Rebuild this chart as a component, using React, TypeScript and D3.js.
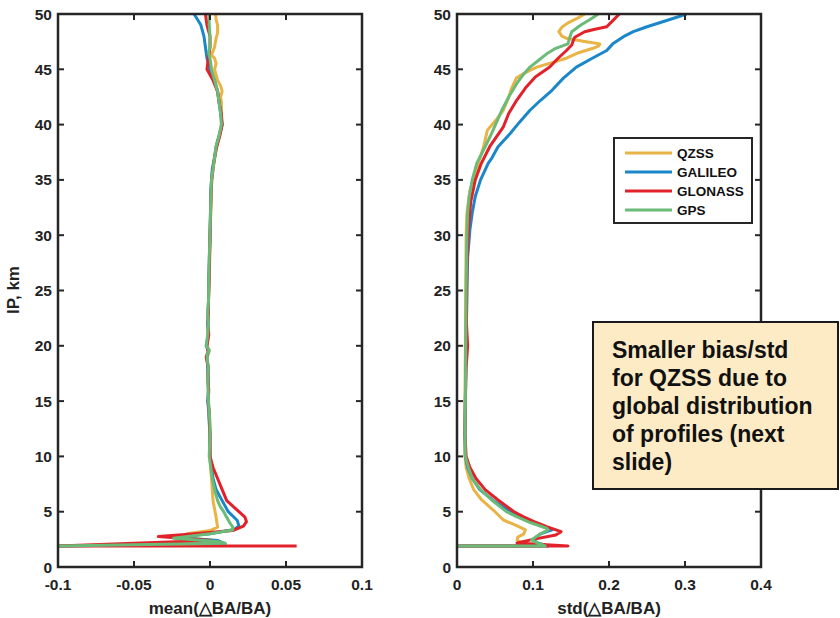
import React from "react";
import * as d3 from "d3";

const seriesNames = ["QZSS", "GALILEO", "GLONASS", "GPS"];
const seriesColors = ["#E9B445", "#1B87C9", "#E2222A", "#6BBB78"];

const heightTicks = [0, 5, 10, 15, 20, 25, 30, 35, 40, 45, 50];
const meanTicks = [-0.1, -0.05, 0, 0.05, 0.1];
const stdTicks = [0, 0.1, 0.2, 0.3, 0.4];

// [height km, mean(dBA/BA)]
const meanQZSS: [number, number][] = [
  [50, 0.0037], [49.5, 0.004], [49, 0.005], [48.3, 0.005], [47.8, 0.004], [47, 0.003], [46.3, 0.001],
  [46, 0.003], [45.5, 0.004], [45, 0.003], [44, 0.005], [43.5, 0.007], [43, 0.008], [42.5, 0.007],
  [42, 0.0075], [41, 0.0075], [40, 0.0075], [39, 0.006], [38, 0.004], [37, 0.003], [36, 0.0018],
  [35, 0.001], [33, 0.0006], [30, 0.0002], [27, -0.0003], [24, -0.001], [22, -0.0012], [20, -0.002],
  [19.5, -0.0005], [19, -0.0018], [17, -0.001], [15, -0.0012], [13, -0.0003], [11, 0.0], [10, 0.0],
  [8.5, 0.0007], [6, 0.002], [4.5, 0.004], [3.6, 0.005], [3.3, 0.0], [3.0, -0.015], [2.7, -0.02],
  [2.4, 0.004], [2.1, 0.009], [1.9, -0.1],
];
const meanGALILEO: [number, number][] = [
  [50, -0.0105], [49, -0.006], [48, -0.004], [47, -0.003], [46, -0.002], [45, 0.0], [44, 0.003],
  [43, 0.005], [42, 0.006], [41, 0.007], [40, 0.008], [39, 0.006], [38, 0.004], [37, 0.003],
  [36, 0.0015], [35, 0.001], [34, 0.0005], [32, 0.0003], [30, 0.0], [28, -0.0004], [26, -0.0008],
  [24, -0.001], [22, -0.0015], [21, -0.001], [20, -0.0025], [19.5, -0.001], [19, -0.002],
  [18, -0.0015], [17, -0.0012], [16, -0.001], [15, -0.0015], [14, -0.0008], [13, -0.0005],
  [12, 0.0], [11, -0.0002], [10, 0.0], [9, 0.001], [8, 0.002], [7, 0.004], [6, 0.008], [5, 0.012],
  [4.2, 0.018], [3.7, 0.019], [3.4, 0.016], [3.0, 0.0], [2.7, -0.025], [2.4, 0.005], [2.1, 0.01],
  [1.9, -0.1],
];
const meanGLONASS: [number, number][] = [
  [50, -0.003], [49, -0.002], [48, 0.0], [47, 0.0], [46, -0.001], [45, -0.002], [44, 0.002],
  [43, 0.005], [42, 0.006], [41, 0.0075], [40, 0.008], [39, 0.0065], [38, 0.0045], [37, 0.003],
  [36, 0.002], [35, 0.0012], [34, 0.0008], [32, 0.0004], [30, 0.0], [28, -0.0003], [26, -0.0006],
  [24, -0.001], [22, -0.0012], [21, -0.0008], [20, -0.002], [19.5, -0.0012], [19, -0.0025],
  [18, -0.001], [17, -0.0015], [16, -0.0008], [15, -0.0012], [14, -0.0005], [13, -0.0003],
  [12, 0.0], [11, 0.0], [10, 0.0], [9, 0.002], [8, 0.005], [7, 0.008], [6, 0.011], [5.5, 0.015],
  [5, 0.019], [4.5, 0.023], [4.1, 0.024], [3.7, 0.022], [3.3, 0.015], [3.0, -0.01],
  [2.75, -0.034], [2.4, 0.0], [1.9, -0.1], [1.9, 0.057],
];
const meanGPS: [number, number][] = [
  [50, -0.0007], [49, -0.0005], [48, 0.0], [47, 0.0], [46.5, -0.001], [46, 0.0], [45, 0.001],
  [44, 0.003], [43, 0.005], [42, 0.006], [41, 0.007], [40, 0.0075], [39, 0.006], [38, 0.004],
  [37, 0.003], [36, 0.002], [35, 0.001], [34, 0.0007], [32, 0.0003], [30, 0.0], [28, -0.0005],
  [26, -0.0008], [24, -0.001], [23, -0.0015], [22, -0.001], [21, -0.0015], [20.5, -0.002],
  [20, -0.0025], [19.6, -0.0005], [19.2, -0.002], [18.5, -0.0015], [18, -0.001], [17, -0.0015],
  [16, -0.0012], [15, -0.001], [14, -0.0005], [13, 0.0], [12, 0.0], [11, -0.0003], [10, -0.0005],
  [9, 0.0005], [8, 0.0015], [7, 0.003], [6, 0.005], [5.5, 0.0066], [5, 0.009], [4.5, 0.011],
  [4, 0.013], [3.6, 0.015], [3.35, 0.015], [3.0, 0.0], [2.6, -0.024], [2.3, 0.005], [2.15, 0.01],
  [1.9, -0.1],
];

// [height km, std(dBA/BA)]
const stdQZSS: [number, number][] = [
  [50, 0.168], [49.6, 0.158], [49.2, 0.146], [48.8, 0.138], [48.4, 0.134], [48.0, 0.138],
  [47.8, 0.144], [47.5, 0.17], [47.3, 0.188], [47.1, 0.186], [46.9, 0.179], [46.5, 0.16],
  [46, 0.144], [45.6, 0.125], [45.2, 0.105], [44.7, 0.09], [44.2, 0.078], [43.3, 0.072],
  [42.3, 0.067], [41.3, 0.061], [40.3, 0.05], [39.5, 0.04], [38, 0.035], [36.5, 0.028],
  [35.3, 0.024], [34, 0.017], [32, 0.013], [30, 0.012], [25, 0.0115], [20, 0.011], [15, 0.0105],
  [12, 0.01], [10, 0.0105], [9, 0.012], [8, 0.016], [7, 0.022], [6.06, 0.0325], [5, 0.05],
  [4.25, 0.061], [3.7, 0.08], [3.35, 0.09], [3.0, 0.088], [2.7, 0.08], [2.44, 0.079],
  [2.2, 0.085], [1.9, 0.1], [1.9, 0.0],
];
const stdGALILEO: [number, number][] = [
  [50, 0.302], [49.5, 0.28], [48.85, 0.25], [48.4, 0.232], [47.95, 0.219], [47.3, 0.205],
  [46.7, 0.197], [46, 0.178], [45.2, 0.157], [44.2, 0.14], [43.1, 0.125], [42.2, 0.11],
  [41.3, 0.096], [40.2, 0.082], [39.2, 0.07], [38, 0.054], [37, 0.046], [36.5, 0.041],
  [35, 0.031], [33.5, 0.024], [32, 0.02], [30.5, 0.017], [28, 0.014], [25, 0.013], [20, 0.012],
  [15, 0.011], [12, 0.0105], [10, 0.011], [9, 0.014], [8, 0.02], [7, 0.03], [6, 0.048],
  [5, 0.07], [4.5, 0.085], [4, 0.1], [3.6, 0.115], [3.35, 0.125], [3.0, 0.11], [2.5, 0.1],
  [2.2, 0.105], [1.9, 0.12], [1.9, 0.0],
];
const stdGLONASS: [number, number][] = [
  [50, 0.2136], [49.4, 0.205], [48.85, 0.197], [48.6, 0.18], [48.4, 0.168], [47.9, 0.155],
  [47.6, 0.153], [47.2, 0.151], [46.7, 0.144], [46, 0.133], [45.2, 0.122], [44.3, 0.103],
  [43.3, 0.09], [42.2, 0.0785], [41, 0.068], [39.8, 0.061], [38, 0.043], [36.5, 0.032],
  [35, 0.024], [33, 0.018], [30.5, 0.015], [27, 0.013], [22, 0.0125], [20, 0.014], [18, 0.012],
  [15, 0.011], [12, 0.0105], [10, 0.012], [9, 0.017], [8, 0.025], [7, 0.037], [6.06, 0.054],
  [5, 0.075], [4.55, 0.087], [4, 0.105], [3.64, 0.118], [3.2, 0.137], [2.9, 0.13], [2.5, 0.1],
  [2.17, 0.079], [1.9, 0.146], [1.9, 0.0],
];
const stdGPS: [number, number][] = [
  [50, 0.186], [49.5, 0.175], [49, 0.163], [48.4, 0.151], [47.8, 0.148], [47.3, 0.146],
  [46.9, 0.13], [46.4, 0.118], [45.8, 0.107], [45.2, 0.096], [44.5, 0.087], [43.7, 0.0785],
  [42.5, 0.068], [41.3, 0.059], [40.2, 0.052], [39.2, 0.0456], [38, 0.037], [36.5, 0.026],
  [35, 0.02], [33.5, 0.016], [32, 0.014], [30, 0.013], [25, 0.012], [20, 0.0115], [15, 0.011],
  [12, 0.0105], [10, 0.011], [9, 0.015], [8, 0.02], [7, 0.031], [6.06, 0.0456], [5, 0.065],
  [4.55, 0.0785], [4, 0.097], [3.5, 0.118], [3.35, 0.12], [3.0, 0.11], [2.44, 0.098],
  [2.2, 0.105], [1.9, 0.116], [1.9, 0.0],
];

const meanSeries = [meanQZSS, meanGALILEO, meanGLONASS, meanGPS];
const stdSeries = [stdQZSS, stdGALILEO, stdGLONASS, stdGPS];

const noteLines = [
  "Smaller bias/std",
  "for QZSS due to",
  "global distribution",
  "of profiles (next",
  "slide)",
];

const FONT = "Arial, 'Liberation Sans', Helvetica, sans-serif";
const AX = "#262626";

const top = 14;
const bottom = 567;
const yScale = d3.scaleLinear().domain([0, 50]).range([bottom, top]);

type PanelProps = {
  id: string;
  x0: number;
  x1: number;
  domain: [number, number];
  ticks: number[];
  series: [number, number][][];
  xlabel: string;
};

function Panel({ id, x0, x1, domain, ticks, series, xlabel }: PanelProps) {
  const x = d3.scaleLinear().domain(domain).range([x0, x1]);
  const line = d3
    .line<[number, number]>()
    .x((d) => x(d[1]))
    .y((d) => yScale(d[0]));
  const tl = 6;
  return (
    <g>
      <defs>
        <clipPath id={id}>
          <rect x={x0} y={top} width={x1 - x0} height={bottom - top} />
        </clipPath>
      </defs>
      <g clipPath={`url(#${id})`}>
        {series.map((s, i) => (
          <path
            key={i}
            d={line(s) || ""}
            fill="none"
            stroke={seriesColors[i]}
            strokeWidth={3}
            strokeLinejoin="round"
          />
        ))}
      </g>
      {ticks.map((t) => (
        <g key={"x" + t}>
          <line x1={x(t)} x2={x(t)} y1={bottom} y2={bottom - tl} stroke={AX} strokeWidth={2} />
          <line x1={x(t)} x2={x(t)} y1={top} y2={top + tl} stroke={AX} strokeWidth={2} />
          <text
            x={x(t)}
            y={590}
            textAnchor="middle"
            fontFamily={FONT}
            fontWeight="bold"
            fontSize={15.5}
            fill="#222"
          >
            {String(t)}
          </text>
        </g>
      ))}
      {heightTicks.map((t) => (
        <g key={"y" + t}>
          <line x1={x0} x2={x0 + tl} y1={yScale(t)} y2={yScale(t)} stroke={AX} strokeWidth={2} />
          <line x1={x1} x2={x1 - tl} y1={yScale(t)} y2={yScale(t)} stroke={AX} strokeWidth={2} />
          <text
            x={x0 - 6}
            y={yScale(t) + 5.5}
            textAnchor="end"
            fontFamily={FONT}
            fontWeight="bold"
            fontSize={15.5}
            fill="#222"
          >
            {String(t)}
          </text>
        </g>
      ))}
      <rect x={x0} y={top} width={x1 - x0} height={bottom - top} fill="none" stroke={AX} strokeWidth={2.5} />
      <text
        x={(x0 + x1) / 2}
        y={614}
        textAnchor="middle"
        fontFamily={FONT}
        fontWeight="bold"
        fontSize={17}
        fill="#222"
      >
        {xlabel}
      </text>
    </g>
  );
}

export default function App() {
  return (
    <svg
      width={840}
      height={618}
      style={{ position: "absolute", left: 0, top: 0, background: "#fff" }}
    >
      <rect x={0} y={0} width={840} height={618} fill="#fff" />
      <Panel
        id="clipL"
        x0={58}
        x1={362}
        domain={[-0.1, 0.1]}
        ticks={meanTicks}
        series={meanSeries}
        xlabel="mean(△BA/BA)"
      />
      <Panel
        id="clipR"
        x0={457}
        x1={761}
        domain={[0, 0.4]}
        ticks={stdTicks}
        series={stdSeries}
        xlabel="std(△BA/BA)"
      />
      <text
        transform="translate(19,290) rotate(-90)"
        textAnchor="middle"
        fontFamily={FONT}
        fontWeight="bold"
        fontSize={17}
        fill="#222"
      >
        IP, km
      </text>
      {/* legend */}
      <rect x={614} y={138} width={138} height={85} fill="#fff" stroke={AX} strokeWidth={2} />
      {seriesNames.map((n, i) => {
        const ly = 153 + i * 19;
        return (
          <g key={n}>
            <line x1={625} x2={672} y1={ly} y2={ly} stroke={seriesColors[i]} strokeWidth={3} />
            <text
              x={677}
              y={ly + 5}
              fontFamily={FONT}
              fontWeight="bold"
              fontSize={13.5}
              fill="#111"
            >
              {n}
            </text>
          </g>
        );
      })}
      {/* note box */}
      <rect x={593} y={322} width={245} height={167} fill="#FDEBC6" stroke="#1a1a1a" strokeWidth={2} />
      {noteLines.map((l, i) => (
        <text
          key={i}
          x={612}
          y={358 + i * 28}
          fontFamily={FONT}
          fontWeight="bold"
          fontSize={23}
          fill="#111"
        >
          {l}
        </text>
      ))}
    </svg>
  );
}
